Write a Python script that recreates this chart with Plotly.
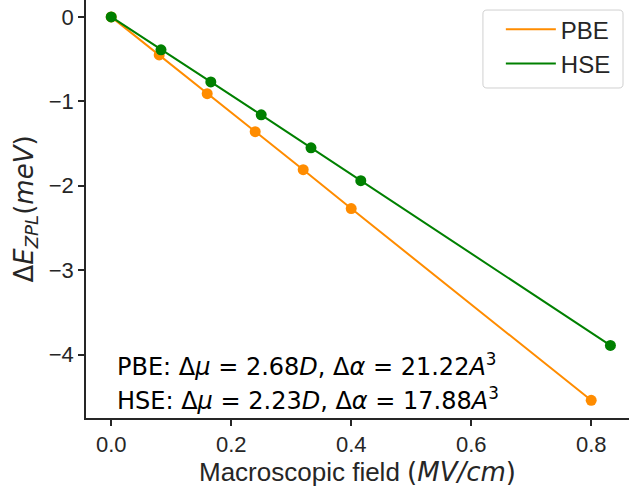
import plotly.graph_objects as go

# Macroscopic field (MV/cm) and ZPL shift (meV) for each functional
pbe_field = [0.0, 0.08, 0.16, 0.24, 0.32, 0.40, 0.80]
pbe_shift = [0.0, -0.45, -0.91, -1.36, -1.81, -2.27, -4.54]

hse_field = [0.0, 0.083, 0.166, 0.25, 0.333, 0.416, 0.832]
hse_shift = [0.0, -0.39, -0.77, -1.16, -1.55, -1.94, -3.89]

x_ticks = [0.0, 0.2, 0.4, 0.6, 0.8]
y_ticks = [0, -1, -2, -3, -4]

PBE_COLOR = "#ff8c00"
HSE_COLOR = "#008000"
AXIS_COLOR = "#262626"
MATH = "font-family:'DejaVu Sans'"

fig = go.Figure()

for name, xs, ys, color in [
    ("PBE", pbe_field, pbe_shift, PBE_COLOR),
    ("HSE", hse_field, hse_shift, HSE_COLOR),
]:
    fig.add_trace(go.Scatter(
        x=xs, y=ys, mode="lines", name=name,
        line=dict(color=color, width=2),
    ))
    fig.add_trace(go.Scatter(
        x=xs, y=ys, mode="markers", showlegend=False,
        marker=dict(color=color, size=11),
    ))

axis_common = dict(
    showgrid=False, zeroline=False,
    showline=True, linecolor=AXIS_COLOR, linewidth=1.6,
    ticks="outside", ticklen=6, tickwidth=1.6, tickcolor=AXIS_COLOR,
    tickfont=dict(family="Liberation Sans, Arial", size=22, color=AXIS_COLOR),
)

fig.update_xaxes(
    range=[-0.042, 0.863], tickvals=x_ticks,
    ticktext=[f"{v:.1f}" for v in x_ticks],
    title=dict(text=f"Macroscopic field <span style=\"{MATH}\">(<i>MV/cm</i>)</span>",
               font=dict(family="Liberation Sans, Arial", size=26, color=AXIS_COLOR),
               standoff=4),
    **axis_common,
)
fig.update_yaxes(
    range=[-4.75, 0.2], tickvals=y_ticks,
    ticktext=[str(v).replace("-", "\u2212") for v in y_ticks],
    title=dict(text="Δ<i>E</i><sub><i>ZPL</i></sub>(<i>meV</i>)",
               font=dict(family="DejaVu Sans", size=26, color=AXIS_COLOR),
               standoff=8),
    **axis_common,
)

ann_font = dict(family="DejaVu Sans", size=24, color="black")
fig.add_annotation(
    xref="paper", yref="y", x=0.053, y=-4.12, xanchor="left", yanchor="middle",
    text="PBE: Δ<i>μ</i> = 2.68<i>D</i>, Δ<i>α</i> = 21.22<i>A</i><sup>3</sup>",
    showarrow=False, font=ann_font,
)
fig.add_annotation(
    xref="paper", yref="y", x=0.053, y=-4.53, xanchor="left", yanchor="middle",
    text="HSE: Δ<i>μ</i> = 2.23<i>D</i>, Δ<i>α</i> = 17.88<i>A</i><sup>3</sup>",
    showarrow=False, font=ann_font,
)

# Rounded frame behind the legend entries
x0, x1, y0, y1 = 0.731, 0.989, 0.7895, 0.976
rx, ry = 0.0074, 0.0096
frame = (
    f"M {x0+rx},{y0} L {x1-rx},{y0} Q {x1},{y0} {x1},{y0+ry} "
    f"L {x1},{y1-ry} Q {x1},{y1} {x1-rx},{y1} "
    f"L {x0+rx},{y1} Q {x0},{y1} {x0},{y1-ry} "
    f"L {x0},{y0+ry} Q {x0},{y0} {x0+rx},{y0} Z"
)
fig.add_shape(
    type="path", path=frame, xref="paper", yref="paper",
    fillcolor="white", line=dict(color="#d0d0d0", width=1), layer="above",
)

fig.update_layout(
    width=629, height=492,
    margin=dict(l=86, r=0, t=0, b=74),
    plot_bgcolor="white", paper_bgcolor="white",
    legend=dict(
        x=0.764, y=0.983, xanchor="left", yanchor="top",
        bgcolor="rgba(0,0,0,0)", borderwidth=0,
        font=dict(family="Liberation Sans, Arial", size=24, color=AXIS_COLOR),
        itemwidth=50,
    ),
)

fig.write_html("out.html")
